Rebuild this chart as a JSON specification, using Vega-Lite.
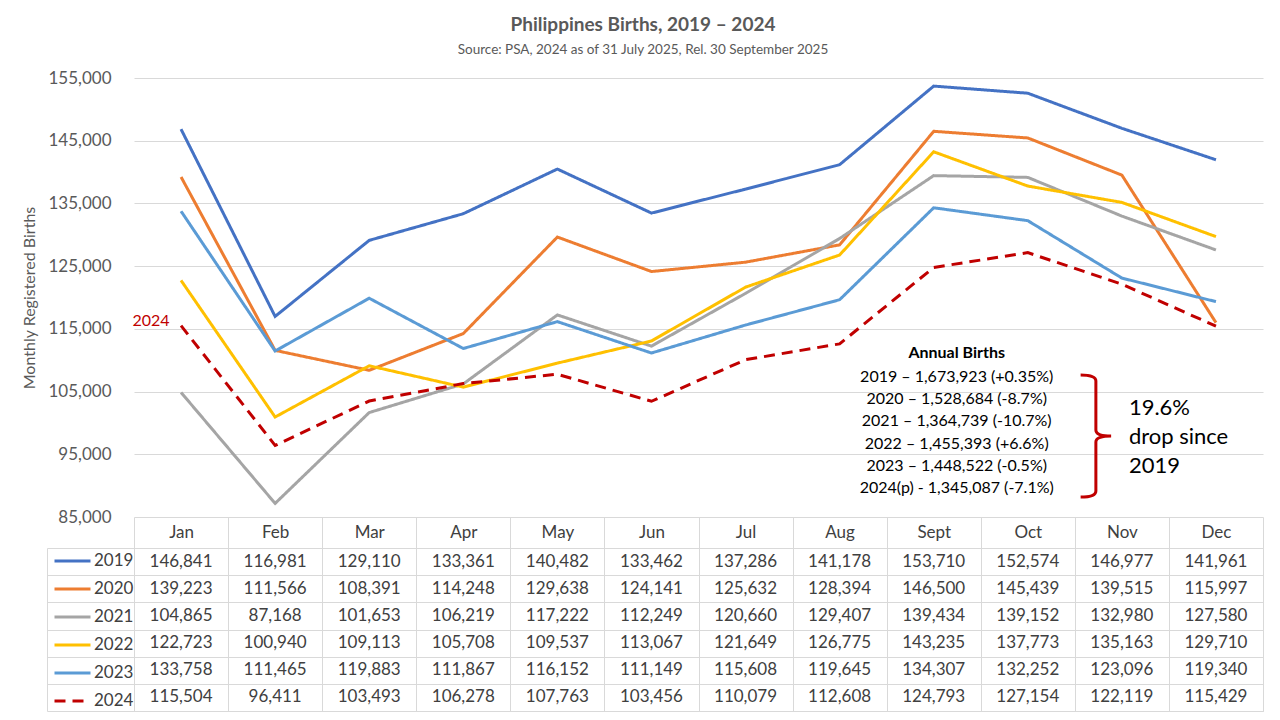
{
  "$schema": "https://vega.github.io/schema/vega-lite/v6.json",
  "padding": {"left": 21, "top": 15, "right": 18, "bottom": 9},
  "background": "white",
  "title": {
    "text": "Philippines Births, 2019 – 2024",
    "subtitle": "Source: PSA, 2024 as of 31 July 2025, Rel. 30 September 2025",
    "anchor": "middle",
    "font": "Lato",
    "fontSize": 19,
    "fontWeight": "bold",
    "color": "#595959",
    "subtitleFont": "Lato",
    "subtitleFontSize": 13.5,
    "subtitleColor": "#595959",
    "subtitlePadding": 8,
    "offset": 13
  },
  "config": {
    "font": "Lato",
    "numberFormat": ",",
    "view": {"stroke": null},
    "legend": {
      "orient": "none",
      "legendX": -81,
      "legendY": 469.5,
      "title": null,
      "direction": "vertical",
      "clipHeight": 27.17,
      "rowPadding": 0,
      "symbolType": "stroke",
      "symbolSize": 1296,
      "symbolStrokeWidth": 3,
      "symbolOffset": 0,
      "labelOffset": 2,
      "labelFontSize": 17,
      "labelColor": "#404040",
      "labelBaseline": "middle",
      "padding": 0,
      "offset": 0
    }
  },
  "datasets": {
    "births": [
      {"year": "2019", "month": "Jan", "births": 146841},
      {"year": "2019", "month": "Feb", "births": 116981},
      {"year": "2019", "month": "Mar", "births": 129110},
      {"year": "2019", "month": "Apr", "births": 133361},
      {"year": "2019", "month": "May", "births": 140482},
      {"year": "2019", "month": "Jun", "births": 133462},
      {"year": "2019", "month": "Jul", "births": 137286},
      {"year": "2019", "month": "Aug", "births": 141178},
      {"year": "2019", "month": "Sept", "births": 153710},
      {"year": "2019", "month": "Oct", "births": 152574},
      {"year": "2019", "month": "Nov", "births": 146977},
      {"year": "2019", "month": "Dec", "births": 141961},
      {"year": "2020", "month": "Jan", "births": 139223},
      {"year": "2020", "month": "Feb", "births": 111566},
      {"year": "2020", "month": "Mar", "births": 108391},
      {"year": "2020", "month": "Apr", "births": 114248},
      {"year": "2020", "month": "May", "births": 129638},
      {"year": "2020", "month": "Jun", "births": 124141},
      {"year": "2020", "month": "Jul", "births": 125632},
      {"year": "2020", "month": "Aug", "births": 128394},
      {"year": "2020", "month": "Sept", "births": 146500},
      {"year": "2020", "month": "Oct", "births": 145439},
      {"year": "2020", "month": "Nov", "births": 139515},
      {"year": "2020", "month": "Dec", "births": 115997},
      {"year": "2021", "month": "Jan", "births": 104865},
      {"year": "2021", "month": "Feb", "births": 87168},
      {"year": "2021", "month": "Mar", "births": 101653},
      {"year": "2021", "month": "Apr", "births": 106219},
      {"year": "2021", "month": "May", "births": 117222},
      {"year": "2021", "month": "Jun", "births": 112249},
      {"year": "2021", "month": "Jul", "births": 120660},
      {"year": "2021", "month": "Aug", "births": 129407},
      {"year": "2021", "month": "Sept", "births": 139434},
      {"year": "2021", "month": "Oct", "births": 139152},
      {"year": "2021", "month": "Nov", "births": 132980},
      {"year": "2021", "month": "Dec", "births": 127580},
      {"year": "2022", "month": "Jan", "births": 122723},
      {"year": "2022", "month": "Feb", "births": 100940},
      {"year": "2022", "month": "Mar", "births": 109113},
      {"year": "2022", "month": "Apr", "births": 105708},
      {"year": "2022", "month": "May", "births": 109537},
      {"year": "2022", "month": "Jun", "births": 113067},
      {"year": "2022", "month": "Jul", "births": 121649},
      {"year": "2022", "month": "Aug", "births": 126775},
      {"year": "2022", "month": "Sept", "births": 143235},
      {"year": "2022", "month": "Oct", "births": 137773},
      {"year": "2022", "month": "Nov", "births": 135163},
      {"year": "2022", "month": "Dec", "births": 129710},
      {"year": "2023", "month": "Jan", "births": 133758},
      {"year": "2023", "month": "Feb", "births": 111465},
      {"year": "2023", "month": "Mar", "births": 119883},
      {"year": "2023", "month": "Apr", "births": 111867},
      {"year": "2023", "month": "May", "births": 116152},
      {"year": "2023", "month": "Jun", "births": 111149},
      {"year": "2023", "month": "Jul", "births": 115608},
      {"year": "2023", "month": "Aug", "births": 119645},
      {"year": "2023", "month": "Sept", "births": 134307},
      {"year": "2023", "month": "Oct", "births": 132252},
      {"year": "2023", "month": "Nov", "births": 123096},
      {"year": "2023", "month": "Dec", "births": 119340},
      {"year": "2024", "month": "Jan", "births": 115504},
      {"year": "2024", "month": "Feb", "births": 96411},
      {"year": "2024", "month": "Mar", "births": 103493},
      {"year": "2024", "month": "Apr", "births": 106278},
      {"year": "2024", "month": "May", "births": 107763},
      {"year": "2024", "month": "Jun", "births": 103456},
      {"year": "2024", "month": "Jul", "births": 110079},
      {"year": "2024", "month": "Aug", "births": 112608},
      {"year": "2024", "month": "Sept", "births": 124793},
      {"year": "2024", "month": "Oct", "births": 127154},
      {"year": "2024", "month": "Nov", "births": 122119},
      {"year": "2024", "month": "Dec", "births": 115429}
    ]
  },
  "bounds": "flush",
  "spacing": 31,
  "vconcat": [
    {
      "width": 1129,
      "height": 439,
      "layer": [
        {
          "data": {"name": "births"},
          "mark": {"type": "line", "strokeWidth": 3},
          "encoding": {
            "x": {
              "field": "month",
              "type": "nominal",
              "scale": {"type": "band", "domain": ["Jan", "Feb", "Mar", "Apr", "May", "Jun", "Jul", "Aug", "Sept", "Oct", "Nov", "Dec"], "paddingInner": 0, "paddingOuter": 0},
              "axis": null
            },
            "y": {
              "field": "births",
              "type": "quantitative",
              "title": "Monthly Registered Births",
              "scale": {"domain": [85000, 155000], "nice": false, "zero": false},
              "axis": {
                "values": [85000, 95000, 105000, 115000, 125000, 135000, 145000, 155000],
                "labelExpr": "format(datum.value, ',')",
                "title": "Monthly Registered Births",
                "grid": true,
                "gridColor": "#d9d9d9",
                "domain": false,
                "ticks": false,
                "labelPadding": 23,
                "labelFontSize": 17,
                "labelColor": "#595959",
                "titleFontSize": 16,
                "titleFontWeight": "normal",
                "titleColor": "#595959",
                "titlePadding": 10
              }
            },
            "color": {
              "field": "year",
              "type": "nominal",
              "scale": {"domain": ["2019", "2020", "2021", "2022", "2023", "2024"], "range": ["#4472C4", "#ED7D31", "#A5A5A5", "#FFC000", "#5B9BD5", "#C00000"]}
            },
            "strokeDash": {
              "field": "year",
              "type": "nominal",
              "scale": {"domain": ["2019", "2020", "2021", "2022", "2023", "2024"], "range": [[1, 0], [1, 0], [1, 0], [1, 0], [1, 0], [11, 7]]}
            }
          }
        },
        {
          "data": {"name": "births"},
          "transform": [{"filter": "datum.year === '2024' && datum.month === 'Jan'"}],
          "mark": {"type": "text", "color": "#C00000", "fontSize": 16, "dx": -30, "dy": -5},
          "encoding": {
            "x": {"field": "month", "type": "nominal"},
            "y": {"field": "births", "type": "quantitative", "title": "Monthly Registered Births"},
            "text": {"field": "year"}
          }
        },
        {
          "data": {"values": [{}]},
          "mark": {"type": "text", "text": "Annual Births", "fontSize": 16, "fontWeight": "bold", "color": "#000000", "xOffset": 23, "baseline": "middle"},
          "encoding": {
            "x": {"datum": "Sept", "type": "nominal"},
            "y": {"datum": 111150, "type": "quantitative", "title": "Monthly Registered Births"}
          }
        },
        {
          "data": {"values": [{}]},
          "mark": {
            "type": "text",
            "text": ["2019 – 1,673,923 (+0.35%)", "2020 – 1,528,684 (-8.7%)", "2021 – 1,364,739 (-10.7%)", "2022 – 1,455,393 (+6.6%)", "2023 – 1,448,522 (-0.5%)", "2024(p) -  1,345,087 (-7.1%)"],
            "fontSize": 16,
            "lineHeight": 22.2,
            "color": "#000000",
            "xOffset": 23,
            "baseline": "middle"
          },
          "encoding": {
            "x": {"datum": "Sept", "type": "nominal"},
            "y": {"datum": 107324, "type": "quantitative", "title": "Monthly Registered Births"}
          }
        },
        {
          "data": {"values": [{}]},
          "mark": {
            "type": "point",
            "shape": "M-0.25,-1 Q0,-1 0,-0.9 L0,-0.1 Q0,0 0.25,0 Q0,0 0,0.1 L0,0.9 Q0,1 -0.25,1",
            "size": 14884,
            "filled": false,
            "stroke": "#C00000",
            "strokeWidth": 3,
            "opacity": 1,
            "xOffset": -26
          },
          "encoding": {
            "x": {"datum": "Nov", "type": "nominal"},
            "y": {"datum": 97916, "type": "quantitative", "title": "Monthly Registered Births"}
          }
        },
        {
          "data": {"values": [{}]},
          "mark": {
            "type": "text",
            "text": ["19.6%", "drop since", "2019"],
            "fontSize": 22,
            "lineHeight": 29,
            "align": "left",
            "baseline": "middle",
            "color": "#000000",
            "xOffset": 7
          },
          "encoding": {
            "x": {"datum": "Nov", "type": "nominal"},
            "y": {"datum": 102382, "type": "quantitative", "title": "Monthly Registered Births"}
          }
        }
      ]
    },
    {
      "width": 1129,
      "height": 163,
      "data": {"name": "births"},
      "view": {"stroke": "#d9d9d9"},
      "mark": {"type": "text", "fontSize": 17, "color": "#404040"},
      "encoding": {
        "x": {
          "field": "month",
          "type": "nominal",
          "title": null,
          "scale": {"type": "band", "domain": ["Jan", "Feb", "Mar", "Apr", "May", "Jun", "Jul", "Aug", "Sept", "Oct", "Nov", "Dec"], "paddingInner": 0, "paddingOuter": 0},
          "axis": {
            "orient": "top",
            "tickBand": "extent",
            "tickSize": 31,
            "tickColor": "#d9d9d9",
            "domain": false,
            "grid": true,
            "gridColor": "#d9d9d9",
            "labelAngle": 0,
            "labelBaseline": "middle",
            "labelPadding": -15,
            "labelFontSize": 17,
            "labelColor": "#404040"
          }
        },
        "y": {
          "field": "year",
          "type": "nominal",
          "title": null,
          "scale": {"type": "band", "domain": ["2019", "2020", "2021", "2022", "2023", "2024"], "paddingInner": 0, "paddingOuter": 0},
          "axis": {
            "orient": "left",
            "tickBand": "extent",
            "offset": 87,
            "tickSize": -87,
            "tickColor": "#d9d9d9",
            "domain": true,
            "domainColor": "#d9d9d9",
            "grid": true,
            "gridColor": "#d9d9d9",
            "labels": false
          }
        },
        "text": {"field": "births", "type": "quantitative", "format": ","}
      }
    }
  ]
}
